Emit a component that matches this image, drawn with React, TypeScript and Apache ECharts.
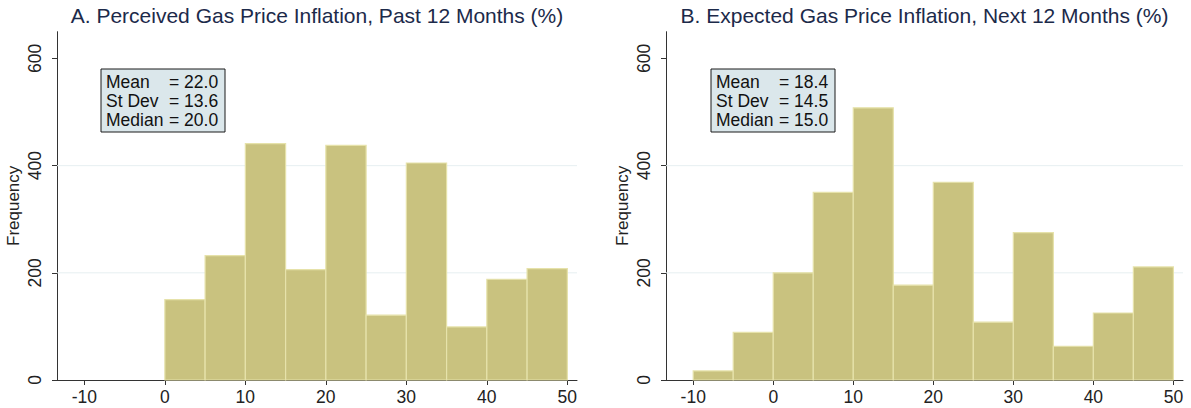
import React, { useEffect, useRef } from "react";
import * as echarts from "echarts";

// Histogram bins: lower edges (width 5), and frequencies per bin
const binWidth = 5;
const perceivedBins = [0, 5, 10, 15, 20, 25, 30, 35, 40, 45];
const perceivedCounts = [150, 232, 441, 206, 438, 121, 405, 99, 188, 208];
const expectedBins = [-10, -5, 0, 5, 10, 15, 20, 25, 30, 35, 40, 45];
const expectedCounts = [17, 89, 200, 350, 508, 177, 369, 108, 275, 63, 125, 211];

const xTicks = [-10, 0, 10, 20, 30, 40, 50];
const yTicks = [0, 200, 400, 600];
const gridValues = [200, 400];

const titles = [
  "A. Perceived Gas Price Inflation, Past 12 Months (%)",
  "B. Expected Gas Price Inflation, Next 12 Months (%)",
];
const statLabels = ["Mean", "St Dev", "Median"];
const perceivedStats = ["22.0", "13.6", "20.0"];
const expectedStats = ["18.4", "14.5", "15.0"];

const X_MIN = -13.4;
const X_MAX = 51.2;
const Y_MAX = 650;

const FONT = "'Liberation Sans', Arial, Helvetica, sans-serif";
const BAR = "#c9c27f";
const BAR_EDGE = "#e6e2aa";
const GRID_LINE = "#e6eff1";
const AXIS = "#333333";
const TITLE = "#1c2a4a";

export default function App() {
  const ref = useRef<HTMLDivElement>(null);

  useEffect(() => {
    if (!ref.current) return;
    const chart = echarts.init(ref.current, null, { renderer: "svg" });

    const panels = [
      { left: 57, width: 520, bins: perceivedBins, counts: perceivedCounts, stats: perceivedStats, box: 101 },
      { left: 666, width: 517, bins: expectedBins, counts: expectedCounts, stats: expectedStats, box: 711 },
    ];

    const barSeries = panels.map((p, i) => ({
      type: "custom",
      xAxisIndex: i,
      yAxisIndex: i,
      z: 3,
      encode: { x: [0, 1], y: 2 },
      data: p.bins.map((b, k) => [b, b + binWidth, p.counts[k]]),
      renderItem: (params: any, api: any) => {
        const top = api.coord([api.value(0), api.value(2)]);
        const base = api.coord([api.value(1), 0]);
        return {
          type: "rect",
          shape: { x: top[0], y: top[1], width: base[0] - top[0], height: base[1] - top[1] },
          style: { fill: BAR, stroke: BAR_EDGE, lineWidth: 1.2 },
        };
      },
    }));

    const gridSeries = panels.map((p, i) => ({
      type: "custom",
      xAxisIndex: i,
      yAxisIndex: i,
      z: 1,
      silent: true,
      encode: { x: 0, y: 1 },
      data: gridValues.map((v) => [0, v]),
      renderItem: (params: any, api: any) => {
        const cs = params.coordSys;
        const y = api.coord([0, api.value(1)])[1];
        return {
          type: "line",
          shape: { x1: cs.x, y1: y, x2: cs.x + cs.width, y2: y },
          style: { stroke: GRID_LINE, lineWidth: 1 },
        };
      },
    }));

    const graphics: any[] = [];
    panels.forEach((p, i) => {
      graphics.push({
        type: "text",
        x: p.left + p.width / 2,
        y: 5,
        style: {
          text: titles[i],
          fontSize: 21,
          fontFamily: FONT,
          fill: TITLE,
          align: "center",
          verticalAlign: "top",
        },
      });
      graphics.push({
        type: "group",
        x: p.box,
        y: 69,
        children: [
          {
            type: "rect",
            shape: { x: 0, y: 0, width: 124, height: 63 },
            style: { fill: "#dbe7eb", stroke: "#1a1a1a", lineWidth: 1 },
          },
          {
            type: "text",
            x: 5,
            y: 3,
            style: {
              text: statLabels.join("\n"),
              fontSize: 17.5,
              lineHeight: 19,
              fontFamily: FONT,
              fill: "#111111",
              verticalAlign: "top",
            },
          },
          {
            type: "text",
            x: 68,
            y: 3,
            style: {
              text: p.stats.map((s) => "= " + s).join("\n"),
              fontSize: 17.5,
              lineHeight: 19,
              fontFamily: FONT,
              fill: "#111111",
              verticalAlign: "top",
            },
          },
        ],
      });
    });

    chart.setOption({
      animation: false,
      backgroundColor: "#ffffff",
      textStyle: { fontFamily: FONT },
      grid: panels.map((p) => ({
        left: p.left,
        width: p.width,
        top: 31.7,
        height: 348.3,
        containLabel: false,
      })),
      xAxis: panels.map((p, i) => ({
        type: "value",
        gridIndex: i,
        min: X_MIN,
        max: X_MAX,
        axisLine: { show: true, onZero: false, lineStyle: { color: AXIS, width: 1 } },
        axisTick: { show: true, length: 5, customValues: xTicks, lineStyle: { color: AXIS } },
        axisLabel: {
          customValues: xTicks,
          margin: 8,
          fontSize: 17.5,
          color: "#222222",
          fontFamily: FONT,
        },
        splitLine: { show: false },
      })),
      yAxis: panels.map((p, i) => ({
        type: "value",
        gridIndex: i,
        min: 0,
        max: Y_MAX,
        name: "Frequency",
        nameLocation: "middle",
        nameRotate: 90,
        nameGap: 35,
        nameTextStyle: { fontSize: 17, color: "#222222", fontFamily: FONT },
        axisLine: { show: true, onZero: false, lineStyle: { color: AXIS, width: 1 } },
        axisTick: { show: true, length: 5, customValues: yTicks, lineStyle: { color: AXIS } },
        axisLabel: {
          customValues: yTicks,
          rotate: 90,
          margin: 13,
          fontSize: 17.5,
          color: "#222222",
          fontFamily: FONT,
        },
        splitLine: { show: false },
      })),
      series: [...gridSeries, ...barSeries],
      graphic: graphics,
    });

    return () => chart.dispose();
  }, []);

  return (
    <div
      ref={ref}
      style={{ position: "fixed", left: 0, top: 0, width: 1191, height: 408, background: "#fff" }}
    />
  );
}
